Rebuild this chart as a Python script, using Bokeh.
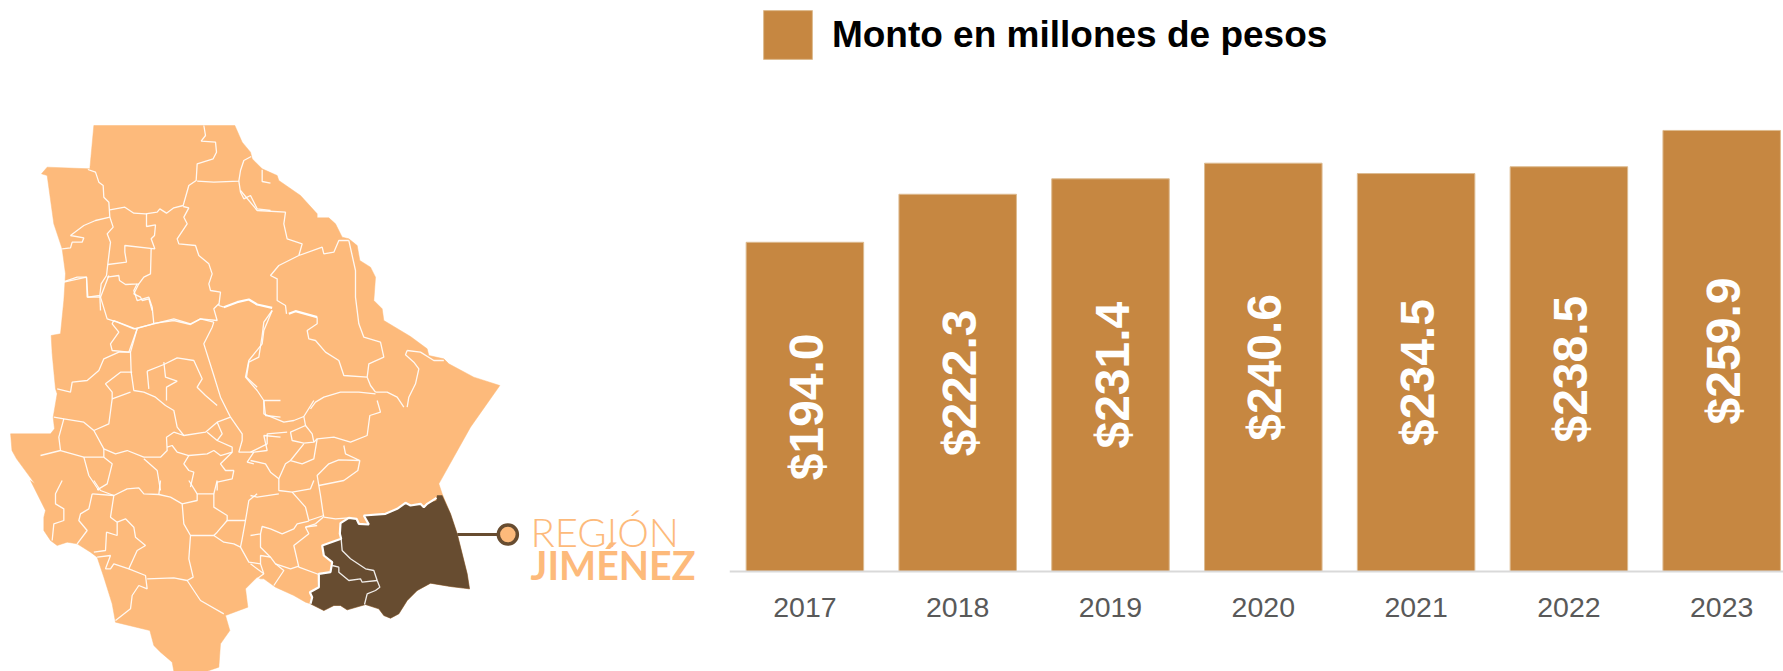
from bokeh.plotting import figure
from bokeh.layouts import row
from bokeh.models import Range1d, FixedTicker, Legend, LegendItem, ColumnDataSource
from bokeh.core.properties import value
from bokeh.embed import file_html
from bokeh.resources import INLINE
import math

# ---------- chart data ----------
years = [2017, 2018, 2019, 2020, 2021, 2022, 2023]
amounts = [194.0, 222.3, 231.4, 240.6, 234.5, 238.5, 259.9]
amount_labels = ["$194.0", "$222.3", "$231.4", "$240.6", "$234.5", "$238.5", "$259.9"]
series_name = "Monto en millones de pesos"
region_name = ["REGIÓN", "JIMÉNEZ"]

BAR = "#C68741"
ORANGE = "#FDBA7B"
BROWN = "#674C30"

# ---------- map geometry, traced (crop origin x, y, scale) ----------
def T(x0, y0, fx, pts, fy=3.0):
    return [(x0 + a / fx, y0 + b / fy) for a, b in pts]

def Z1(pts): return T(0, 100, 3, pts)
def Z2(pts): return T(0, 380, 2.178, pts)
def T5(pts): return T(30, 120, 3, pts)
def T6(pts): return T(260, 220, 3, pts)
def T7(pts): return T(40, 300, 3, pts)
def T8(pts): return T(0, 480, 3, pts)
def T9(pts): return T(250, 400, 3, pts)

north_east_edge = Z1([(280,75),(703,75),(725,125),(750,155),(755,175),(785,205),(830,225),(835,240),(900,285),(950,340),
    (950,352),(985,352),(1005,370),(1025,410),(1045,415),(1070,435),(1078,480),(1110,500),(1125,530),(1120,600),
    (1145,625),(1150,660),(1230,708),(1280,745),(1285,765),(1330,775),(1345,790),(1420,830),(1498,855)])
east_edge = T9([(660,80),(565,250),(575,280),(600,340),(620,400),(650,520),(657,565),(600,558),(540,548),(500,570),
    (470,600),(445,640),(420,653),(400,645),(385,625),(345,612),(290,628),(270,615),(250,615),(220,630),(180,610),
    (165,605),(130,585),(75,560),(40,535),(30,535)])
south_edge = T8([(770,290),(735,325),(742,380),(675,405),(688,450),(660,490),(655,560),(620,572),(520,572),(515,545),
    (480,515),(460,495),(448,450),(345,425),(335,370),(310,290),(290,230),(270,215),(230,190),(200,185),(170,195),
    (150,180),(130,150),(130,110),(135,90),(90,0)])
west_edge = Z2([(75,310),(35,235),(25,210),(22,160)]) + T7([(30,400),(42,385),(38,350),(50,280),(45,265),(35,160),
    (32,105),(60,100),(70,0)]) + T5([(105,460),(95,385),(70,310),(50,165),(33,160),(50,140),(178,145),(190,15)])
state_outline = north_east_edge + east_edge + south_edge + west_edge

jimenez_outline = T9([(560,285),(575,285),(600,340),(620,400),(650,520),(657,565),(600,558),(540,548),(500,570),
    (470,600),(445,640),(420,653),(400,645),(385,625),(345,612),(290,628),(270,615),(250,615),(220,630),(180,610),
    (185,590),(178,575),(203,560),(205,520),(240,515),(245,485),(220,465),(215,435),(272,415),(268,400),(270,368),
    (295,352),(318,355),(325,370),(355,372),(340,345),(405,340),(440,325),(465,307),(480,315),(510,310),(520,320),
    (530,310),(558,300)])

thin_borders = [
    T5(p) for p in [
        [(520,15),(525,45),(512,62),(555,65),(558,95),(548,115),(500,130),(497,180),(475,195),(458,255),(430,262),(408,278),(388,265),(380,275),(345,280),(310,278),(283,260),(238,268)],
        [(172,147),(195,155),(205,185),(218,195),(220,230),(235,245),(238,290),(195,300),(160,315),(120,345),(160,352),(155,365),(125,365),(120,382),(95,385)],
        [(238,290),(248,320),(230,340),(240,365),(232,430),(228,465),(212,490),(208,525),(172,530),(168,470),(140,470),(105,482),(97,482)],
        [(348,280),(348,318),(375,313),(372,345),(362,355),(373,385),(283,375),(283,395),(288,425),(232,432)],
        [(362,385),(360,460),(340,470),(325,490),(285,492),(267,480),(265,465),(230,470)],
        [(325,490),(310,520),(330,530),(335,540),(355,535),(365,570)],
        [(458,258),(475,262),(460,290),(470,310),(440,355),(445,370),(495,375),(505,405),(535,430),(545,460),(535,490),(540,510),(570,515),(565,555),(580,560)],
        [(208,525),(210,570)],
        [(500,182),(550,185),(625,182),(630,150),(640,120),(662,108)],
        [(625,182),(630,215),(640,235),(660,225),(680,265),(720,270)],
        [(695,148),(695,183),(720,188)],
    ]
] + [
    Z1(p) for p in [
        [(720,270),(770,330),(855,335),(850,370),(860,415),(905,430),(895,465),(965,440),(970,460),(1000,455),(1015,420),(1045,420)],
        [(895,465),(865,480),(835,495),(810,525),(830,535),(830,600),(855,615),(858,640)],
        [(1045,420),(1065,510),(1065,590),(1075,670),(1090,710),(1140,725),(1150,770),(1105,790),(1100,830),(1030,825),(1015,780),(975,755),(945,720),(925,715),(920,690),(950,670),(950,650)],
        [(815,630),(790,665),(785,705),(775,770),(745,785),(738,830),(770,860)],
        [(655,610),(640,625),(650,660),(600,655),(570,670),(520,655),(460,670),(400,685),(350,665),(320,655),(300,590)],
        [(460,670),(455,620),(445,590),(410,600),(400,570),(410,550)],
        [(300,590),(260,590),(258,530),(190,545)],
        [(300,590),(325,525)],
    ]
] + [
    T6(p) for p in [
        [(440,390),(435,403),(460,425),(475,445),(465,490),(445,530),(440,560)],
        [(440,390),(480,395),(520,420),(550,420)],
        [(345,515),(380,515),(410,530),(430,560)],
        [(345,520),(295,515),(240,515),(190,530),(165,545),(150,565)],
        [(320,470),(330,495),(345,515)],
    ]
] + [
    T7(p) for p in [
        [(220,60),(215,70),(235,95),(210,130),(215,150),(265,155),(290,85)],
        [(220,60),(285,85),(345,68),(400,60),(450,72),(480,55),(520,65)],
        [(290,85),(270,155),(272,215),(280,270),(310,275),(345,290),(375,315),(400,330),(410,380),(430,405),(495,395),(530,365),(570,350),(540,290),(520,225),(490,130),(515,80),(520,65)],
        [(320,212),(370,192),(410,172),(460,180),(485,235),(470,260),(495,285),(530,315)],
        [(370,185),(375,230),(410,242),(378,260),(378,300)],
        [(320,212),(325,265)],
        [(270,155),(235,155),(190,175),(175,210),(140,240),(95,245),(90,275),(50,265)],
        [(275,215),(240,215),(195,250),(215,275),(215,295),(270,275)],
        [(215,295),(205,370),(160,390),(130,365),(70,355),(40,350)],
        [(70,355),(55,410),(60,450),(0,465)],
        [(160,390),(190,445),(225,460),(260,450),(310,470),(360,470),(380,450),(378,410),(400,395),(430,405)],
        [(190,445),(190,470),(130,470),(60,450)],
        [(130,470),(145,525),(175,570)],
        [(190,470),(215,490),(200,550),(170,568)],
        [(310,475),(350,510),(360,570)],
        [(380,440),(395,435),(410,455),(445,465),(500,460),(520,450),(540,465),(575,455),(575,440),(530,420),(500,395)],
        [(445,465),(430,490),(445,510),(460,515),(450,560)],
        [(570,350),(605,400),(605,420),(595,455),(640,455),(680,450),(670,405),(720,410)],
        [(530,365),(545,400),(530,420)],
        [(640,455),(620,485),(640,490)],
        [(695,30),(670,90),(665,130),(625,180),(615,230),(650,270),(670,300),(720,300)],
        [(670,300),(675,345),(720,350)],
        [(575,455),(540,490),(555,510),(580,510),(575,535),(530,545),(530,570)],
    ]
] + [
    T8(p) for p in [
        [(185,0),(165,40),(165,70),(190,85),(190,120),(160,130),(155,180)],
        [(275,40),(265,85),(240,100),(235,120),(260,150),(230,190)],
        [(275,40),(340,45),(330,110),(350,125),(350,165),(318,155),(315,210),(280,215)],
        [(350,125),(375,115),(400,140),(405,170),(435,195),(410,210),(385,265),(340,250),(330,265),(315,265),(330,225),(290,230)],
        [(385,265),(435,285),(440,325),(415,315),(395,345),(390,385),(345,420)],
        [(440,295),(520,292),(560,300),(600,360),(670,400)],
        [(560,300),(578,290),(565,235),(570,165),(550,130),(545,70),(510,50),(475,42),(430,40),(415,22),(380,25),(340,45)],
        [(570,165),(640,165),(670,185),(700,190),(720,200),(745,245),(780,250)],
        [(545,70),(590,60),(590,40),(640,40),(640,80),(680,105),(680,120),(735,120),(725,175),(720,200)],
        [(680,120),(650,155),(640,165)],
        [(475,42),(480,0)],
        [(340,45),(300,30),(280,0)],
        [(590,40),(565,0)],
        [(640,40),(650,0)],
        [(770,40),(745,60),(735,120)],
    ]
] + [
    T9(p) for p in [
        [(40,0),(40,40),(100,65),(130,60),(160,48),(190,0)],
        [(160,48),(165,75),(120,95),(125,120),(160,128),(190,125),(200,115),(250,110),(300,125),(350,105),(358,45),(390,35),(380,0)],
        [(190,125),(185,100),(165,75)],
        [(200,115),(190,175),(155,190),(120,180),(160,130)],
        [(280,135),(285,160),(328,180),(322,210),(280,240),(205,255),(200,225),(235,190),(265,178),(328,180)],
        [(205,255),(210,285),(218,340),(220,350),(255,355),(295,352)],
        [(190,240),(180,265),(125,275),(85,270),(85,235),(105,190),(120,180)],
        [(85,235),(60,215),(45,190),(0,180)],
        [(125,275),(165,320),(175,360),(220,345)],
        [(175,362),(140,370),(130,385),(95,400),(60,385),(35,378),(30,400),(0,405)],
        [(218,350),(195,370),(165,380),(175,400),(130,435),(145,500),(205,522)],
        [(30,400),(30,440),(60,470),(75,490),(120,505),(145,497)],
        [(75,490),(100,510),(70,555)],
        [(60,470),(30,465),(30,490),(40,520),(0,490)],
        [(40,520),(20,535)],
        [(0,285),(20,290),(85,280)],
        [(0,155),(50,130),(50,100),(110,95)],
        [(165,380),(200,375)],
        [(272,415),(275,450),(300,475),(345,505),(370,510),(380,540),(388,560),(375,570),(350,580),(342,612)],
        [(245,495),(265,500),(265,515),(295,540),(330,535),(335,545),(380,540)],
    ]
]
thick_borders = [
    Z1([(670,620),(710,605),(745,597),(770,612),(815,622)]),
    Z1([(865,640),(885,632),(950,650)]),
    T9([(558,292),(530,310),(520,320),(510,310),(480,315),(465,307),(440,325),(405,340),(340,345),(355,372),(325,370),(318,355),(295,352),(270,368),(268,400),(272,415),(215,435),(220,465),(245,485),(240,515),(205,520),(205,560),(178,575),(185,590),(180,610)]),
]
connector = T(0, 380, 2.178, [(995,462),(1085,462)])
marker = T(0, 380, 2.178, [(1105,462)])

# ---------- map panel ----------
m = figure(width=729, height=671, x_range=Range1d(0, 729), y_range=Range1d(671, 0),
           output_backend="svg", toolbar_location=None, min_border=0, outline_line_color=None)
m.axis.visible = False
m.grid.visible = False
def xs(pts): return [a for a, _ in pts]
def ys(pts): return [b for _, b in pts]
m.patch(xs(state_outline), ys(state_outline), fill_color=ORANGE, line_color=ORANGE, line_width=0.5)
m.patch(xs(jimenez_outline), ys(jimenez_outline), fill_color=BROWN, line_color=BROWN, line_width=0.5)
m.multi_line([xs(l) for l in thin_borders], [ys(l) for l in thin_borders], line_color="#FFFFFF", line_width=1.3, line_alpha=0.9)
m.multi_line([xs(l) for l in thick_borders], [ys(l) for l in thick_borders], line_color="#FFFFFF", line_width=2.2)
m.line(xs(connector), ys(connector), line_color=BROWN, line_width=3)
m.scatter(xs(marker), ys(marker), size=19, fill_color=ORANGE, line_color=BROWN, line_width=3.5)
m.text([530], [531], text=[region_name[0]], text_font=value("Lato Light"), text_font_size="40px",
       text_color=ORANGE, text_baseline="middle")
m.text([530], [564], text=[region_name[1]], text_font=value("Lato"), text_font_style="bold", text_font_size="39.3px",
       text_color=ORANGE, text_baseline="middle")

# ---------- bar panel ----------
band = 152.8
px_per_unit = 1.697
base_px = 571
x_start = years[0] - 0.5 + 1 / band
src = ColumnDataSource(dict(year=years, amount=amounts, mid=[a / 2 for a in amounts], label=amount_labels))
p = figure(width=1054, height=671, x_range=Range1d(x_start, x_start + 1054 / band),
           y_range=Range1d(-(671 - base_px) / px_per_unit, base_px / px_per_unit),
           output_backend="svg", toolbar_location=None, min_border=0, outline_line_color=None)
p.grid.visible = False
p.yaxis.visible = False
bars = p.vbar(x="year", top="amount", width=0.769, bottom=0, source=src, fill_color=BAR, line_color="#DDBB90", line_width=1)
p.text(x="year", y="mid", text="label", source=src, angle=math.pi / 2, text_align="center", text_baseline="middle",
       x_offset=1.5, text_color="#FFFFFF", text_font=value("Liberation Sans"), text_font_style="bold", text_font_size="48px")
ax = p.xaxis[0]
ax.fixed_location = 0
ax.ticker = FixedTicker(ticks=years)
ax.major_tick_line_color = None
ax.minor_tick_line_color = None
ax.axis_line_color = "#D9D9D9"
ax.axis_line_width = 2
ax.major_label_text_font = "Liberation Sans"
ax.major_label_text_font_size = "28.5px"
ax.major_label_text_color = "#595959"
ax.major_label_standoff = 20

leg = Legend(items=[LegendItem(label=series_name, renderers=[bars])], location=(27.9, 605.85),
             glyph_width=61, glyph_height=61, label_standoff=14, padding=0, margin=0, spacing=0,
             border_line_color=None, background_fill_alpha=0,
             label_text_font="Liberation Sans", label_text_font_style="bold", label_text_font_size="37px",
             label_text_color="#000000")
p.add_layout(leg, "center")

page = row(m, p, spacing=0)
open("out.html", "w").write(file_html(page, INLINE))
